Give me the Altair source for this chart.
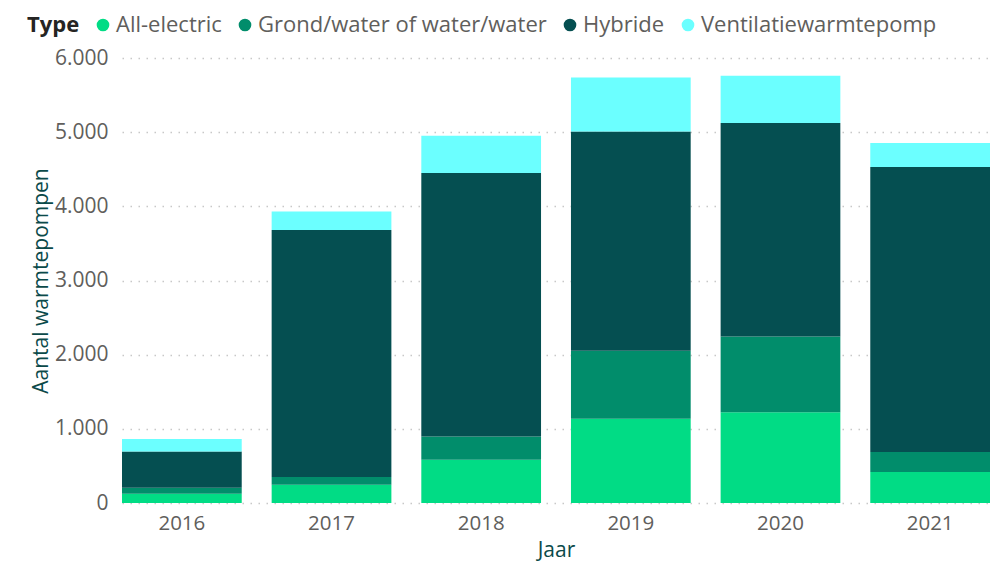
import altair as alt
import pandas as pd

years = ["2016", "2017", "2018", "2019", "2020", "2021"]
types = ["All-electric", "Grond/water of water/water", "Hybride", "Ventilatiewarmtepomp"]
all_electric = [125, 247, 584, 1137, 1222, 418]
grond = [81, 103, 314, 916, 1024, 270]
hybride = [490, 3331, 3551, 2957, 2877, 3842]
ventilatie = [167, 251, 503, 728, 638, 324]
colors = ["#01DC85", "#018D6B", "#054F51", "#6BFFFF"]

series = [all_electric, grond, hybride, ventilatie]
rows = []
for ti, (t, vals) in enumerate(zip(types, series)):
    for y, v in zip(years, vals):
        rows.append({"Jaar": y, "Type": t, "Aantal": v, "idx": ti})
df = pd.DataFrame(rows)

FONT = "Open Sans"

chart = alt.Chart(df).mark_bar().encode(
    x=alt.X("Jaar:N", sort=years,
            scale=alt.Scale(paddingInner=0.2, paddingOuter=0),
            axis=alt.Axis(title="Jaar", labelAngle=0, labelFontSize=20.5, labelColor="#605E5C",
                          labelPadding=10, titleFontSize=21, titleColor="#0B4A4A",
                          titleFontWeight="normal", titlePadding=6, ticks=False, domain=False,
                          labelFont=FONT, titleFont=FONT)),
    y=alt.Y("Aantal:Q", stack="zero",
            scale=alt.Scale(domain=[0, 6000], nice=False),
            axis=alt.Axis(title="Aantal warmtepompen", values=[0, 1000, 2000, 3000, 4000, 5000, 6000],
                          labelExpr="replace(format(datum.value, ','), ',', '.')",
                          labelFontSize=21, labelColor="#605E5C", labelPadding=14,
                          titleFontSize=21, titleColor="#0B4A4A", titleFontWeight="normal",
                          titlePadding=3, ticks=False, domain=False,
                          grid=True, gridColor="#C8C8C8", gridDash=[1.5, 6.5], gridWidth=1.5,
                          labelFont=FONT, titleFont=FONT)),
    color=alt.Color("Type:N", scale=alt.Scale(domain=types, range=colors),
                    legend=alt.Legend(title="Type", orient="none", legendX=-95, legendY=-44,
                                      direction="horizontal", titleOrient="left",
                                      symbolType="circle", symbolSize=160, symbolStrokeWidth=0,
                                      labelFontSize=22, labelColor="#605E5C", labelFont=FONT,
                                      titleFontSize=22, titleColor="#252423", titleFont=FONT,
                                      titleFontWeight="bold", columnPadding=12, labelOffset=2,
                                      titlePadding=12, labelLimit=500)),
    order=alt.Order("idx:Q", sort="ascending"),
).properties(
    width=868, height=445,
    autosize=alt.AutoSizeParams(type="none"),
    padding={"left": 114, "top": 50, "right": 0, "bottom": 60},
).configure_view(stroke=None)

chart.save("out.html", embed_options={"renderer": "svg", "actions": False})
